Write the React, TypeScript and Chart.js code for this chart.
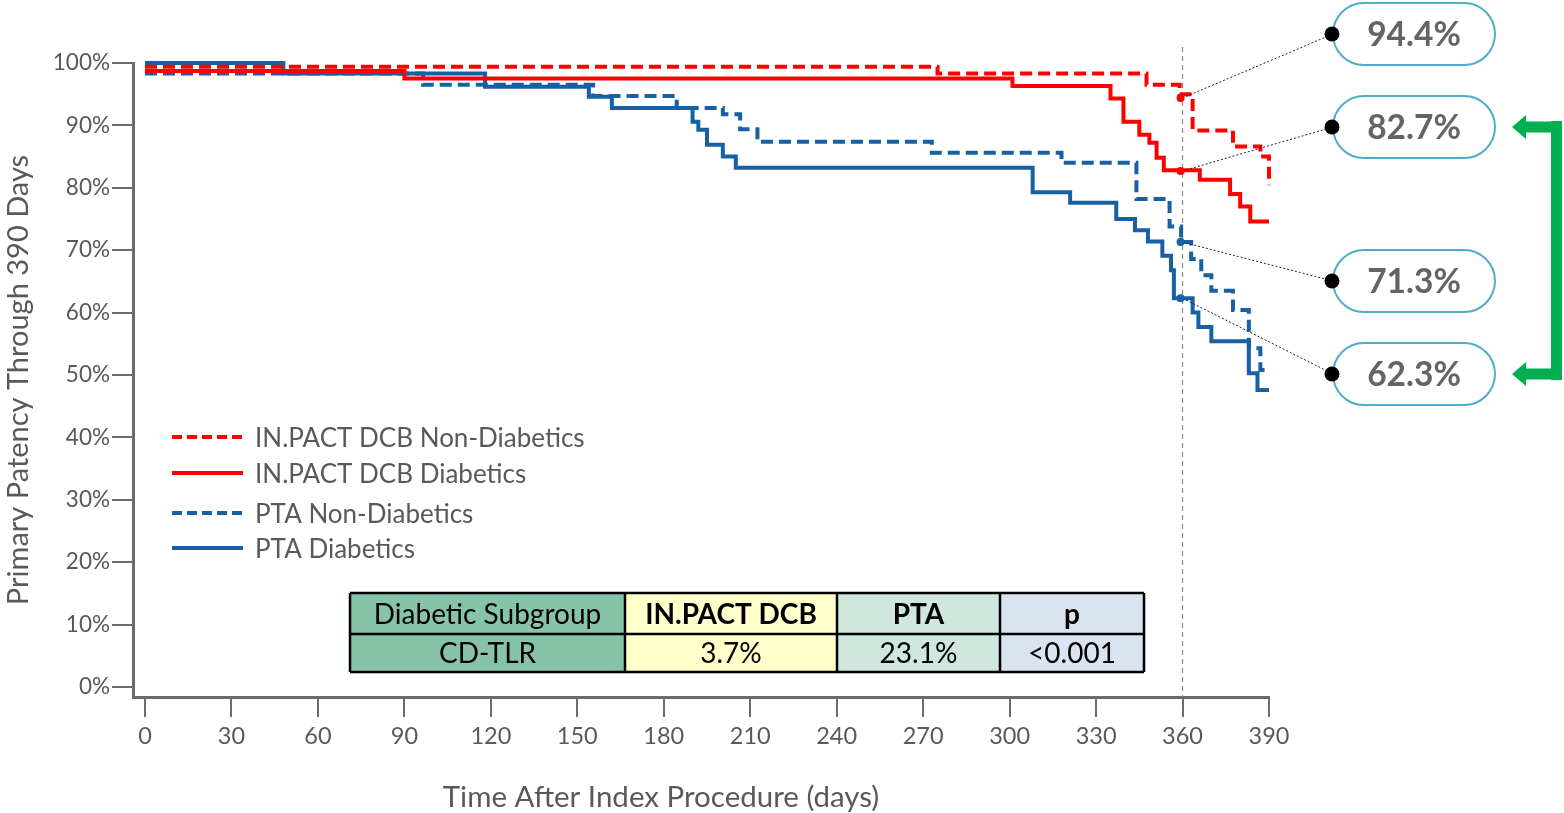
import React, { useEffect, useRef } from "react";
import { Chart, registerables } from "chart.js";

Chart.register(...registerables);

// ---------- data ----------
const xTickValues = [0, 30, 60, 90, 120, 150, 180, 210, 240, 270, 300, 330, 360, 390];
const yTickValues = [0, 10, 20, 30, 40, 50, 60, 70, 80, 90, 100];

const seriesLabels = [
  "IN.PACT DCB Non-Diabetics",
  "IN.PACT DCB Diabetics",
  "PTA Non-Diabetics",
  "PTA Diabetics",
];

const dcbNonDiabDays = [0, 275, 347.5, 359, 363.5, 377.5, 387, 390];
const dcbNonDiabPct = [99.4, 98.3, 96.5, 95.0, 89.2, 86.6, 85.0, 80.4];

const dcbDiabDays = [0, 90, 301, 335, 339.5, 345, 348.5, 351, 353.5, 366, 376.5, 380, 383.5, 390];
const dcbDiabPct = [98.7, 97.5, 96.3, 94.3, 90.6, 88.5, 87.2, 84.8, 82.8, 81.3, 79.0, 77.0, 74.6, 74.6];

const ptaNonDiabDays = [0, 96.5, 155.5, 184.5, 200.5, 206.5, 212.5, 273, 318, 344, 355.5, 359.5, 363, 366.5, 370, 377.5, 383, 387, 390];
const ptaNonDiabPct = [98.3, 96.5, 94.7, 92.8, 91.8, 89.4, 87.4, 85.6, 84.0, 78.2, 73.8, 71.3, 68.6, 66.0, 63.5, 60.4, 54.3, 50.8, 50.8];

const ptaDiabDays = [0, 48, 118, 154, 162, 190, 192, 195, 200.5, 205, 308, 321, 337, 343.5, 348, 353, 356, 357, 363.5, 365.5, 370, 383, 386, 390];
const ptaDiabPct = [100, 98.3, 96.2, 94.6, 92.8, 90.6, 89.3, 86.9, 85.0, 83.2, 79.3, 77.6, 75.0, 73.2, 71.4, 69.1, 66.8, 62.3, 60.0, 57.7, 55.4, 50.3, 47.6, 47.6];

const landmarkDay = 360;
const landmarkValues = [94.4, 82.7, 71.3, 62.3];
const calloutLabels = ["94.4%", "82.7%", "71.3%", "62.3%"];

const tableHeader = ["Diabetic Subgroup", "IN.PACT DCB", "PTA", "p"];
const tableRow = ["CD-TLR", "3.7%", "23.1%", "<0.001"];

const yTitle = "Primary Patency Through 390 Days";
const xTitle = "Time After Index Procedure (days)";

// ---------- styles / layout ----------
const RED = "#FF0000";
const BLUE = "#1760A3";
const GRAY = "#595959";
const AXIS = "#6b6b6b";
const FONT = "Lato, 'Open Sans', sans-serif";
const seriesColors = [RED, RED, BLUE, BLUE];
const seriesDashed = [true, false, true, false];
const calloutCenterY = [34, 127, 281, 374];
const pill = { left: 1333, right: 1495, half: 31 };
const tableCols = [350, 625, 837, 1000, 1144];
const tableRows = [593, 634, 672];
const tableFills = ["#87C3A8", "#FFFFCC", "#CFE7DC", "#DAE3F0"];
const legendRowsY = [437, 473, 513, 548];

function pillPath(ctx: CanvasRenderingContext2D, l: number, r: number, cy: number, h: number) {
  ctx.beginPath();
  ctx.moveTo(l + h, cy - h);
  ctx.lineTo(r - h, cy - h);
  ctx.arc(r - h, cy, h, -Math.PI / 2, Math.PI / 2);
  ctx.lineTo(l + h, cy + h);
  ctx.arc(l + h, cy, h, Math.PI / 2, (3 * Math.PI) / 2);
  ctx.closePath();
}

const overlayPlugin = {
  id: "overlay",
  beforeDatasetsDraw(chart: any) {
    const { ctx, scales, chartArea } = chart;
    const x = scales.x.getPixelForValue(landmarkDay);
    ctx.save();
    ctx.strokeStyle = "#8a8a8a";
    ctx.lineWidth = 1.2;
    ctx.setLineDash([5, 4]);
    ctx.beginPath();
    ctx.moveTo(x, 47);
    ctx.lineTo(x, chartArea.bottom);
    ctx.stroke();
    ctx.restore();
  },
  afterDatasetsDraw(chart: any) {
    const { ctx, scales } = chart;
    const xs = scales.x;
    const ys = scales.y;
    const lx = xs.getPixelForValue(landmarkDay);

    // callouts
    landmarkValues.forEach((v, i) => {
      const py = ys.getPixelForValue(v);
      const cy = calloutCenterY[i];
      ctx.save();
      ctx.strokeStyle = "#222";
      ctx.lineWidth = 1;
      ctx.setLineDash([2, 2]);
      ctx.beginPath();
      ctx.moveTo(lx, py);
      ctx.lineTo(pill.left, cy);
      ctx.stroke();
      ctx.setLineDash([]);
      ctx.fillStyle = seriesColors[i];
      ctx.beginPath();
      ctx.arc(lx - 2, py, 4, 0, Math.PI * 2);
      ctx.fill();
      // pill
      pillPath(ctx, pill.left, pill.right, cy, pill.half);
      ctx.fillStyle = "#fff";
      ctx.fill();
      ctx.strokeStyle = "#4EADC8";
      ctx.lineWidth = 2;
      ctx.stroke();
      ctx.fillStyle = "#000";
      ctx.beginPath();
      ctx.arc(pill.left - 1, cy, 7.5, 0, Math.PI * 2);
      ctx.fill();
      ctx.fillStyle = "#636466";
      ctx.font = `bold 33.5px ${FONT}`;
      ctx.textAlign = "center";
      ctx.textBaseline = "middle";
      ctx.fillText(calloutLabels[i], (pill.left + pill.right) / 2, cy + 1);
      ctx.restore();
    });

    // green bracket
    ctx.save();
    ctx.fillStyle = "#00B050";
    const top = calloutCenterY[1];
    const bot = calloutCenterY[3];
    ctx.fillRect(1551, top - 6, 11, bot - top + 12);
    [top, bot].forEach((cy) => {
      ctx.fillRect(1524, cy - 5.5, 30, 11);
      ctx.beginPath();
      ctx.moveTo(1512, cy);
      ctx.lineTo(1526, cy - 12);
      ctx.lineTo(1526, cy + 12);
      ctx.closePath();
      ctx.fill();
    });
    ctx.restore();

    // legend
    ctx.save();
    seriesLabels.forEach((lab, i) => {
      const y = legendRowsY[i];
      ctx.strokeStyle = seriesColors[i];
      ctx.lineWidth = 4;
      ctx.setLineDash(seriesDashed[i] ? [10, 5] : []);
      ctx.beginPath();
      ctx.moveTo(172, y);
      ctx.lineTo(243, y);
      ctx.stroke();
      ctx.setLineDash([]);
      ctx.fillStyle = GRAY;
      ctx.font = `26px ${FONT}`;
      ctx.textAlign = "left";
      ctx.textBaseline = "middle";
      ctx.fillText(lab, 255, y + 2);
    });
    ctx.restore();

    // table
    ctx.save();
    for (let c = 0; c < 4; c++) {
      ctx.fillStyle = tableFills[c];
      ctx.fillRect(tableCols[c], tableRows[0], tableCols[c + 1] - tableCols[c], tableRows[2] - tableRows[0]);
    }
    ctx.strokeStyle = "#000";
    ctx.lineWidth = 2.5;
    tableRows.forEach((y) => {
      ctx.beginPath();
      ctx.moveTo(tableCols[0], y);
      ctx.lineTo(tableCols[4], y);
      ctx.stroke();
    });
    tableCols.forEach((x) => {
      ctx.beginPath();
      ctx.moveTo(x, tableRows[0]);
      ctx.lineTo(x, tableRows[2]);
      ctx.stroke();
    });
    ctx.fillStyle = "#000";
    ctx.textAlign = "center";
    ctx.textBaseline = "middle";
    for (let c = 0; c < 4; c++) {
      const cx = (tableCols[c] + tableCols[c + 1]) / 2;
      ctx.font = `${c === 0 ? "" : "bold "}28px ${FONT}`;
      ctx.fillText(tableHeader[c], cx, (tableRows[0] + tableRows[1]) / 2 + 1);
      ctx.font = `28px ${FONT}`;
      ctx.fillText(tableRow[c], cx, (tableRows[1] + tableRows[2]) / 2 + 1);
    }
    ctx.restore();

    // x title
    ctx.save();
    ctx.fillStyle = GRAY;
    ctx.font = `29.5px ${FONT}`;
    ctx.textAlign = "center";
    ctx.textBaseline = "middle";
    ctx.fillText(xTitle, 661, 797);
    ctx.restore();
  },
};

export default function App() {
  const ref = useRef<HTMLCanvasElement | null>(null);
  useEffect(() => {
    document.body.style.margin = "0";
    const canvas = ref.current;
    if (!canvas) return;
    const mk = (days: number[], vals: number[]) => days.map((d, i) => ({ x: d, y: vals[i] }));
    const allDays = [dcbNonDiabDays, dcbDiabDays, ptaNonDiabDays, ptaDiabDays];
    const allPct = [dcbNonDiabPct, dcbDiabPct, ptaNonDiabPct, ptaDiabPct];
    const datasets = seriesLabels.map((label, i) => ({
      label,
      data: mk(allDays[i], allPct[i]),
      borderColor: seriesColors[i],
      backgroundColor: seriesColors[i],
      borderWidth: 4,
      borderDash: seriesDashed[i] ? [12, 6] : [],
      stepped: "before" as const,
      pointRadius: 0,
      fill: false,
      clip: false as any,
    }));
    const chart = new Chart(canvas, {
      type: "line",
      data: { datasets },
      plugins: [overlayPlugin],
      options: {
        responsive: false,
        animation: false,
        layout: { padding: { left: 0, top: 63, right: 295, bottom: 0 }, autoPadding: false },
        plugins: { legend: { display: false }, tooltip: { enabled: false } },
        scales: {
          x: {
            type: "linear",
            min: -4.16,
            max: 390,
            afterBuildTicks: (s: any) => {
              s.ticks = xTickValues.map((v) => ({ value: v }));
            },
            afterFit: (s: any) => {
              s.height = 116;
            },
            grid: { drawOnChartArea: false, drawTicks: true, tickLength: 20, color: AXIS, lineWidth: 2 },
            border: { display: true, color: AXIS, width: 3 },
            ticks: { font: { family: FONT, size: 23.5 }, color: GRAY, padding: 5, maxRotation: 0, autoSkip: false },
          },
          y: {
            type: "linear",
            min: -1.6,
            max: 100,
            afterBuildTicks: (s: any) => {
              s.ticks = yTickValues.map((v) => ({ value: v }));
            },
            afterFit: (s: any) => {
              s.width = 133;
            },
            grid: { drawOnChartArea: false, drawTicks: true, tickLength: 21, color: AXIS, lineWidth: 2 },
            border: { display: true, color: AXIS, width: 3 },
            ticks: {
              font: { family: FONT, size: 22.5 },
              color: GRAY,
              padding: 2,
              autoSkip: false,
              callback: (v: any) => `${v}%`,
            },
            title: {
              display: true,
              text: yTitle,
              color: GRAY,
              font: { family: FONT, size: 29 },
              padding: { top: 1, bottom: 0 },
            },
          },
        },
      },
    });
    return () => chart.destroy();
  }, []);
  return (
    <div style={{ width: 1564, height: 813, position: "relative", background: "#fff" }}>
      <canvas ref={ref} width={1564} height={813} style={{ display: "block" }} />
    </div>
  );
}
